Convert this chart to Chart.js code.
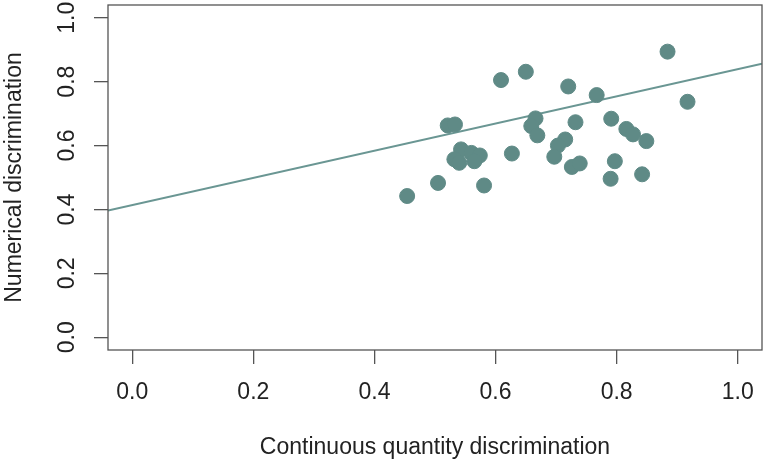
<!DOCTYPE html>
<html>
<head>
<meta charset="utf-8">
<script src="https://cdn.jsdelivr.net/npm/chart.js@4/dist/chart.umd.min.js"></script>
<style>
    html, body { margin: 0; padding: 0; background: #fff; }
    #chart { display: block; }
</style>
</head>
<body>
<canvas id="chart" width="764" height="462"></canvas>
<script>
// Data
const quantityScores = [
    0.884, 0.650, 0.609, 0.720, 0.767, 0.917, 0.666, 0.659, 0.669, 0.521,
    0.533, 0.732, 0.791, 0.816, 0.827, 0.849, 0.715, 0.703, 0.697, 0.627,
    0.543, 0.560, 0.574, 0.565, 0.532, 0.540, 0.726, 0.739, 0.797, 0.790,
    0.842, 0.505, 0.581, 0.454
];
const numericalScores = [
    0.894, 0.831, 0.805, 0.785, 0.758, 0.737, 0.685, 0.661, 0.632, 0.663,
    0.666, 0.673, 0.684, 0.652, 0.635, 0.614, 0.619, 0.600, 0.565, 0.575,
    0.588, 0.577, 0.569, 0.551, 0.557, 0.546, 0.533, 0.544, 0.551, 0.496,
    0.510, 0.483, 0.475, 0.442
];
// Fitted line at the left and right edges of the plot
const fitX = [-0.04, 1.04];
const fitY = [0.397, 0.856];
const tickValues = [0.0, 0.2, 0.4, 0.6, 0.8, 1.0];

const FONT = "'Liberation Sans', Arial, sans-serif";
const DOT = "#5f8a86";
const AXIS = "#555";

document.addEventListener("DOMContentLoaded", () => {
    const ctx = document.getElementById("chart").getContext("2d");

    const points = quantityScores.map((x, i) => ({ x: x, y: numericalScores[i] }));
    const fitLine = fitX.map((x, i) => ({ x: x, y: fitY[i] }));

    // box around the plot + rotated y tick labels (R style)
    const boxPlugin = {
        id: "box",
        afterDraw(chart) {
            const { ctx, chartArea: a, scales } = chart;
            ctx.save();
            ctx.strokeStyle = AXIS;
            ctx.lineWidth = 1.3;
            ctx.strokeRect(a.left, a.top, a.right - a.left, a.bottom - a.top);

            ctx.fillStyle = "#222";
            ctx.font = "23px " + FONT;
            ctx.textAlign = "center";
            ctx.textBaseline = "middle";
            scales.y.ticks.forEach(t => {
                const py = scales.y.getPixelForValue(t.value);
                ctx.save();
                ctx.translate(68, py);
                ctx.rotate(-Math.PI / 2);
                ctx.fillText(t.value.toFixed(1), 0, 0);
                ctx.restore();
            });
            ctx.restore();
        },
    };

    const setTicks = axis => {
        axis.ticks = tickValues.map(v => ({ value: v }));
    };
    const noPadding = s => {
        s.paddingLeft = 0;
        s.paddingRight = 0;
        s.paddingTop = 0;
        s.paddingBottom = 0;
    };

    new Chart(ctx, {
        type: "scatter",
        data: {
            datasets: [
                {
                    data: points,
                    backgroundColor: DOT,
                    borderColor: DOT,
                    borderWidth: 1,
                    pointRadius: 7.5,
                },
                {
                    type: "line",
                    data: fitLine,
                    showLine: true,
                    borderColor: "#6a9693",
                    borderWidth: 2,
                    pointRadius: 0,
                    fill: false,
                },
            ],
        },
        options: {
            responsive: false,
            animation: false,
            devicePixelRatio: 1,
            events: [],
            layout: {
                autoPadding: false,
                padding: { top: 5, right: 2, left: 0, bottom: 0 },
            },
            plugins: {
                legend: { display: false },
                tooltip: { enabled: false },
            },
            scales: {
                x: {
                    type: "linear",
                    min: -0.04,
                    max: 1.04,
                    afterBuildTicks: setTicks,
                    afterFit: s => { s.height = 112; noPadding(s); },
                    border: { display: false },
                    grid: {
                        drawOnChartArea: false,
                        drawTicks: true,
                        tickLength: 14,
                        color: AXIS,
                        lineWidth: 1.3,
                    },
                    ticks: {
                        padding: 15,
                        color: "#222",
                        font: { family: FONT, size: 23 },
                        maxRotation: 0,
                        callback: v => v.toFixed(1),
                    },
                    title: {
                        display: true,
                        text: "Continuous quantity discrimination",
                        color: "#222",
                        font: { family: FONT, size: 23 },
                        padding: { top: 0, bottom: 1 },
                    },
                },
                y: {
                    type: "linear",
                    min: -0.04,
                    max: 1.04,
                    afterBuildTicks: setTicks,
                    afterFit: s => { s.width = 108; noPadding(s); },
                    border: { display: false },
                    grid: {
                        drawOnChartArea: false,
                        drawTicks: true,
                        tickLength: 14,
                        color: AXIS,
                        lineWidth: 1.3,
                    },
                    ticks: {
                        display: false,
                    },
                    title: {
                        display: true,
                        text: "Numerical discrimination",
                        color: "#222",
                        font: { family: FONT, size: 23 },
                        padding: { top: 1, bottom: 0 },
                    },
                },
            },
        },
        plugins: [boxPlugin],
    });
});
</script>
</body>
</html>
